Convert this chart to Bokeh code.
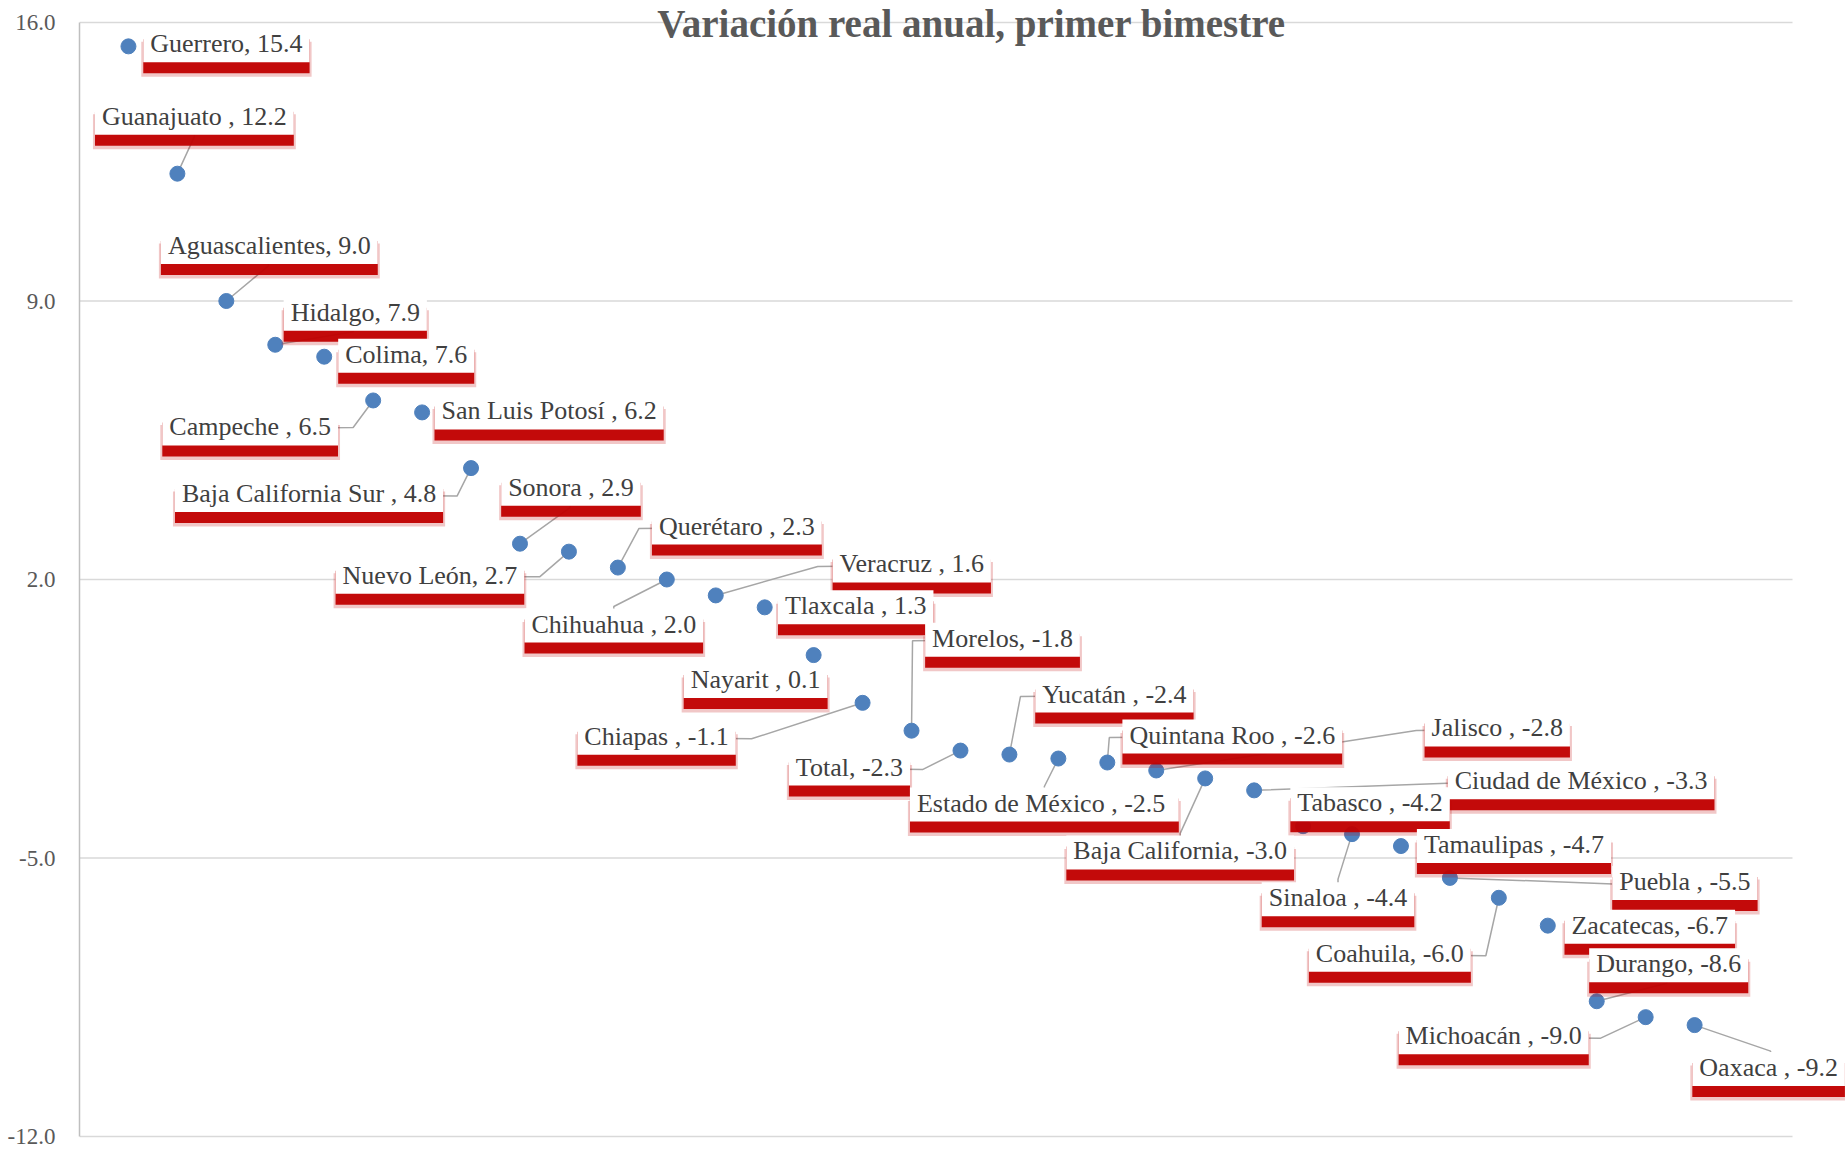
from bokeh.plotting import figure
from bokeh.models import FixedTicker, NumeralTickFormatter, ColumnDataSource, Range1d
from bokeh.core.properties import value
from bokeh.embed import file_html
from bokeh.resources import INLINE

# ---------------- data ----------------
title_text = "Variación real anual, primer bimestre"
states = ["Guerrero", "Guanajuato ", "Aguascalientes", "Hidalgo", "Colima", "Campeche ",
          "San Luis Potosí ", "Baja California Sur ", "Sonora ", "Nuevo León", "Querétaro ",
          "Chihuahua ", "Veracruz ", "Tlaxcala ", "Nayarit ", "Chiapas ", "Morelos", "Total",
          "Yucatán ", "Estado de  México ", "Quintana Roo ", "Jalisco ", "Baja California",
          "Ciudad de México ", "Tabasco ", "Sinaloa ", "Tamaulipas ", "Puebla ", "Coahuila",
          "Zacatecas", "Durango", "Michoacán ", "Oaxaca "]
variation = [15.4, 12.2, 9.0, 7.9, 7.6, 6.5, 6.2, 4.8, 2.9, 2.7, 2.3, 2.0, 1.6, 1.3, 0.1,
             -1.1, -1.8, -2.3, -2.4, -2.5, -2.6, -2.8, -3.0, -3.3, -4.2, -4.4, -4.7, -5.5,
             -6.0, -6.7, -8.6, -9.0, -9.2]
y_ticks = [-12, -5, 2, 9, 16]

# ---------------- layout (screen pixels) ----------------
FIG_W, FIG_H = 1845, 1148
LEFT = 79
FRAME_W = FIG_W - LEFT
PX_X = 1713 / 35.0
TOP_PX, BOT_PX = 22, 1136
PX_Y = (BOT_PX - TOP_PX) / 28.0
X_END = FRAME_W / PX_X
Y_END = 16 + TOP_PX / PX_Y
Y_START = -12 - (FIG_H - BOT_PX) / PX_Y
TITLE_CX = 971

# label text centre offsets from each point (px, +down)
label_offsets = [(98, -1), (17, -56), (43, -54), (80, -31), (82, -1), (-123, 28), (127, 0),
                 (-162, 27), (51, -55), (-139, 25), (119, -40), (-53, 46), (196, -30),
                 (91, 0), (-58, 26), (-206, 35), (91, -91), (-111, 18), (105, -59),
                 (-14, 46), (125, -26), (341, -41), (-25, 74), (327, -8), (67, -22),
                 (-14, 65), (113, 0), (235, 5), (-109, 57), (102, 1), (72, -36),
                 (-152, 20), (74, 44)]
# leader line intermediate points (px offsets from the point)
leaders = {1: [(17, -37)], 2: [(42, -35)], 3: [(78, -13)], 5: [(-20, 27)],
           7: [(-14, 28)], 8: [(50, -36)], 9: [(-29, 25)], 10: [(21, -39)],
           11: [(-53, 27)], 12: [(102, -29)], 15: [(-111, 36)], 16: [(1, -90)],
           17: [(-38, 19)], 18: [(11, -58)], 19: [(-14, 28)], 20: [(2, -25)],
           21: [(260, -40)], 22: [(-25, 55)], 23: [(193, -7)], 25: [(-14, 45)],
           27: [(163, 6)], 28: [(-13, 58)], 30: [(70, -18)], 31: [(-45, 21)],
           32: [(76, 26)]}

xpos = list(range(1, len(states) + 1))
labels = [f"{n}, {v:.1f}" for n, v in zip(states, variation)]

p = figure(width=FIG_W, height=FIG_H, output_backend="svg", toolbar_location=None,
           title=None, x_range=Range1d(0, X_END), y_range=Range1d(Y_START, Y_END),
           min_border_left=LEFT, min_border_right=0, min_border_top=0, min_border_bottom=0)
p.outline_line_color = None
p.background_fill_color = "white"
p.border_fill_color = "white"
p.xaxis.visible = False
p.xgrid.visible = False
p.ygrid.visible = False

yax = p.yaxis[0]
yax.ticker = FixedTicker(ticks=y_ticks)
yax.formatter = NumeralTickFormatter(format="0.0")
yax.bounds = (y_ticks[0], y_ticks[-1])
yax.major_tick_line_color = None
yax.minor_tick_line_color = None
yax.axis_line_color = "#BFBFBF"
yax.axis_line_width = 1.5
yax.major_label_text_font = "Liberation Serif"
yax.major_label_text_font_size = "23px"
yax.major_label_text_color = "#595959"
yax.major_label_standoff = 18

# gridlines
p.segment(x0=[0] * len(y_ticks), x1=[35] * len(y_ticks), y0=y_ticks, y1=y_ticks,
          line_color="#D9D9D9", line_width=1.5)

# leader lines
lxs, lys = [], []
for i, pts in leaders.items():
    dx, dy = label_offsets[i]
    path = [(0, 0)] + pts + [(dx, dy)]
    lxs.append([xpos[i] + ox / PX_X for ox, oy in path])
    lys.append([variation[i] - oy / PX_Y for ox, oy in path])
p.multi_line(lxs, lys, line_color="#A6A6A6", line_width=1.5)

# points
p.scatter(xpos, variation, size=15, color="#4F81BD", line_color="#4F81BD")

src = ColumnDataSource(dict(x=xpos, y=variation, text=labels,
                            dx=[o[0] for o in label_offsets],
                            dy=[o[1] for o in label_offsets],
                            dys=[o[1] + 11 for o in label_offsets],
                            dys2=[o[1] + 14 for o in label_offsets]))
font = value("Liberation Serif")
FS = "26px"
PAD = dict(left=7, right=7, top=1, bottom=4)
# soft outer shadow
p.text("x", "y", text="text", source=src, x_offset="dx", y_offset="dys2",
       text_align="center", text_baseline="middle", text_font=font, text_font_size=FS,
       text_color="#C00000", text_alpha=0.0, background_fill_color="#C00000",
       background_fill_alpha=0.22, padding=dict(left=9, right=9, top=0, bottom=6))
# shadow
p.text("x", "y", text="text", source=src, x_offset="dx", y_offset="dys",
       text_align="center", text_baseline="middle", text_font=font, text_font_size=FS,
       text_color="#C00000", text_alpha=0.0, background_fill_color="#C00000",
       background_fill_alpha=0.95, padding=PAD)
# white box with text
p.text("x", "y", text="text", source=src, x_offset="dx", y_offset="dy",
       text_align="center", text_baseline="middle", text_font=font, text_font_size=FS,
       text_color="#404040", background_fill_color="white", padding=PAD)

# title
p.text(x=[(TITLE_CX - LEFT) / PX_X], y=[16], text=[title_text], y_offset=1,
       text_align="center", text_baseline="alphabetic", text_font=font,
       text_font_size="39px", text_font_style="bold", text_color="#595959")

open("out.html", "w").write(file_html(p, INLINE))
